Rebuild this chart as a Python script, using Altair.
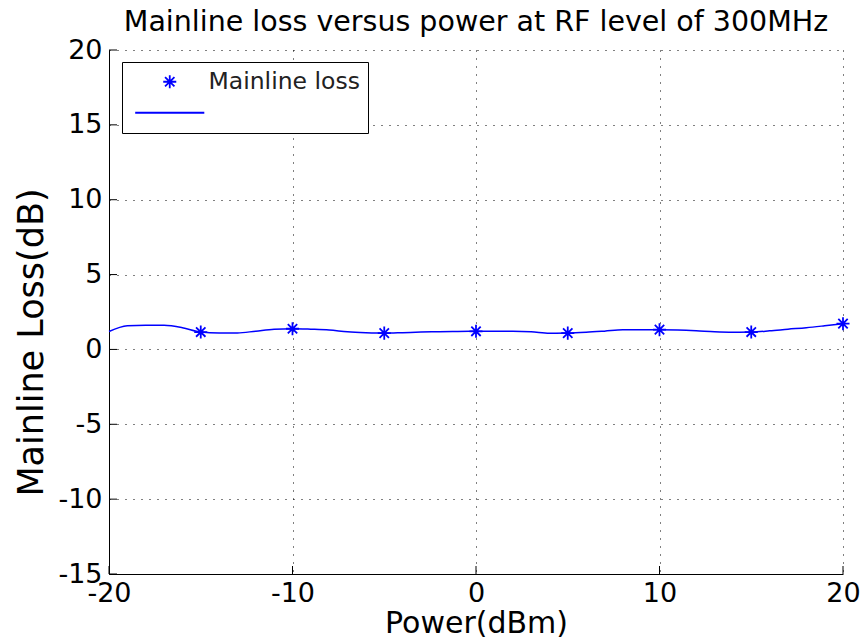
import altair as alt
import pandas as pd

# Measured points (stars)
pt_power = [-15, -10, -5, 0, 5, 10, 15, 20]
pt_loss = [1.16, 1.38, 1.09, 1.21, 1.09, 1.32, 1.16, 1.72]

# Fitted curve (solid line)
ln_power = list(range(-20, 21))
ln_loss = [1.20, 1.58, 1.62, 1.61, 1.45, 1.16, 1.09, 1.10, 1.22, 1.34,
           1.38, 1.35, 1.30, 1.18, 1.12, 1.09, 1.12, 1.16, 1.18, 1.20,
           1.21, 1.21, 1.21, 1.18, 1.08, 1.09, 1.14, 1.22, 1.31, 1.32,
           1.32, 1.30, 1.25, 1.18, 1.15, 1.16, 1.24, 1.35, 1.45, 1.58, 1.72]

x_ticks = [-20, -10, 0, 10, 20]
y_ticks = [-15, -10, -5, 0, 5, 10, 15, 20]
series_names = ["Mainline loss", " "]

BLUE = "#0000ff"
FONT = "DejaVu Sans"
STAR = "M-1,0L1,0M0,-1L0,1M-0.72,-0.72L0.72,0.72M-0.72,0.72L0.72,-0.72"
LINE_SAMPLE = "M-5.3,0L5.3,0"

W, H = 734, 524

pts = pd.DataFrame({"power": pt_power, "loss": pt_loss, "series": "Mainline loss"})
lns = pd.DataFrame({"power": ln_power, "loss": ln_loss})
xt = pd.DataFrame({"v": x_ticks})
yt = pd.DataFrame({"v": y_ticks})

xscale = alt.Scale(domain=[-20, 20], nice=False, zero=False)
yscale = alt.Scale(domain=[-15, 20], nice=False, zero=False)

xaxis = alt.Axis(values=x_ticks, title="Power(dBm)", grid=True, tickSize=0,
                 labelPadding=6, titlePadding=2, labelFontSize=27, titleFontSize=30,
                 labelExpr="'' + datum.value", labelFlush=False, labelOverlap=False)
yaxis = alt.Axis(values=y_ticks, title="Mainline Loss(dB)", grid=True, tickSize=0,
                 labelPadding=7, titlePadding=8, labelFontSize=27, titleFontSize=35,
                 titleY=292, titleAlign="center",
                 labelExpr="'' + datum.value", labelFlush=False, labelOverlap=False)

line = alt.Chart(lns).mark_line(color=BLUE, strokeWidth=1.5, interpolate="monotone").encode(
    x=alt.X("power:Q", scale=xscale, axis=xaxis),
    y=alt.Y("loss:Q", scale=yscale, axis=yaxis),
)

points = alt.Chart(pts).mark_point(filled=False, strokeWidth=1.8, opacity=1, size=170).encode(
    x=alt.X("power:Q", scale=xscale),
    y=alt.Y("loss:Q", scale=yscale),
    color=alt.Color("series:N", scale=alt.Scale(domain=series_names, range=[BLUE, BLUE]),
                    title=None),
    shape=alt.Shape("series:N", scale=alt.Scale(domain=series_names, range=[STAR, LINE_SAMPLE]),
                    title=None),
)

# inward tick marks on the left and bottom axes
xt_bot = alt.Chart(xt).mark_rule(color="black", strokeWidth=1).encode(
    x=alt.X("v:Q", scale=xscale), y=alt.value(H), y2=alt.value(H - 8))
yt_left = alt.Chart(yt).mark_rule(color="black", strokeWidth=1).encode(
    y=alt.Y("v:Q", scale=yscale), x=alt.value(0), x2=alt.value(8))

chart = alt.layer(line, points, xt_bot, yt_left).properties(
    width=W, height=H,
    background="white",
    title=alt.TitleParams("Mainline loss versus power at RF level of 300MHz",
                          font=FONT, fontSize=28.5, fontWeight="normal", color="black",
                          offset=0),
    autosize=alt.AutoSizeParams(type="none"),
    padding={"left": 109, "top": 50, "right": 18, "bottom": 68},
).configure_view(
    stroke=None
).configure_axis(
    labelFont=FONT, labelColor="black",
    titleFont=FONT, titleColor="black", titleFontWeight="normal",
    gridColor="black", gridDash=[1, 7], gridOpacity=1, gridWidth=1,
    domain=True, domainColor="black", domainWidth=1,
).configure_legend(
    orient="none", legendX=13, legendY=12,
    fillColor="white", strokeColor="black", padding=8,
    labelFont=FONT, labelFontSize=23.5, labelColor="#222222",
    symbolSize=170, symbolStrokeWidth=1.8, symbolOffset=28, labelOffset=27,
    rowPadding=6, cornerRadius=0,
)

chart.save("out.html", embed_options={"renderer": "svg", "actions": False})
